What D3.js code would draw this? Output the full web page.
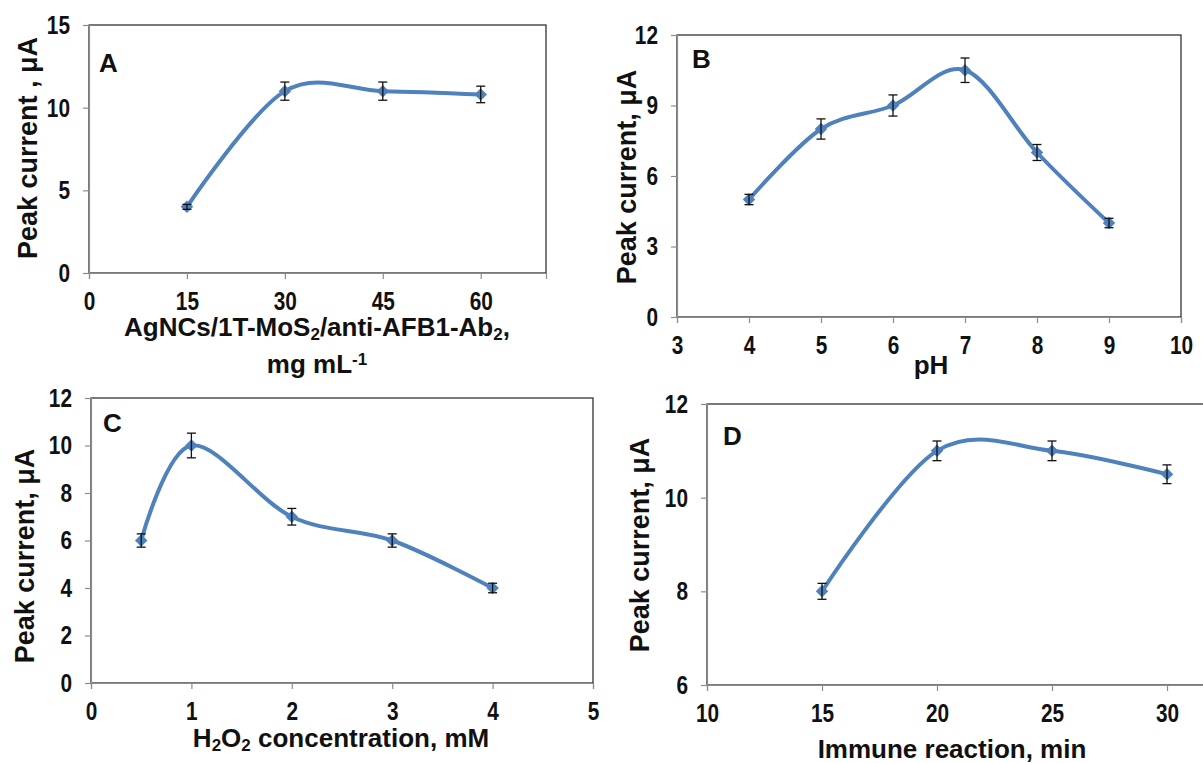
<!DOCTYPE html>
<html>
<head>
<meta charset="utf-8">
<script src="https://cdn.jsdelivr.net/npm/d3@7"></script>
<style>
  body { margin: 0; background: #fff; }
  svg { display: block; font-family: "Liberation Sans", Arial, sans-serif; font-weight: bold; }
</style>
</head>
<body>
<svg id="chart" width="1203" height="763"></svg>
<script>
// panel A - probe amount
const aX = [15, 30, 45, 60];
const aY = [4, 11, 11, 10.8];
const aErr = [0.15, 0.55, 0.55, 0.5];
const aXTicks = [0, 15, 30, 45, 60];
const aYTicks = [0, 5, 10, 15];

// panel B - pH
const bX = [4, 5, 6, 7, 8, 9];
const bY = [5, 8, 9, 10.5, 7, 4];
const bErr = [0.22, 0.43, 0.45, 0.52, 0.34, 0.2];
const bXTicks = [3, 4, 5, 6, 7, 8, 9, 10];
const bYTicks = [0, 3, 6, 9, 12];

// panel C - H2O2
const cX = [0.5, 1, 2, 3, 4];
const cY = [6, 10, 7, 6, 4];
const cErr = [0.28, 0.52, 0.35, 0.28, 0.2];
const cXTicks = [0, 1, 2, 3, 4, 5];
const cYTicks = [0, 2, 4, 6, 8, 10, 12];

// panel D - immune reaction time
const dX = [15, 20, 25, 30];
const dY = [8, 11, 11, 10.5];
const dErr = [0.17, 0.21, 0.21, 0.2];
const dXTicks = [10, 15, 20, 25, 30];
const dYTicks = [6, 8, 10, 12];

const blue = '#4f81bd';
const axisGrey = '#8c8c8c';
const svg = d3.select('#chart');

function drawPanel(p) {
  const x = d3.scaleLinear().domain(p.xDomain).range([p.left, p.right]);
  const y = d3.scaleLinear().domain(p.yDomain).range([p.bottom, p.top]);
  const g = svg.append('g');

  // plot area border
  g.append('rect')
    .attr('x', p.left).attr('y', p.top)
    .attr('width', p.right - p.left).attr('height', p.bottom - p.top)
    .attr('fill', 'none').attr('stroke', '#222').attr('stroke-width', 1.2);

  const xAxis = g.append('g')
    .attr('transform', `translate(0,${p.bottom})`)
    .call(d3.axisBottom(x).tickValues(p.xTicks).tickSize(6).tickPadding(13).tickFormat(d3.format('d')));
  const yAxis = g.append('g')
    .attr('transform', `translate(${p.left},0)`)
    .call(d3.axisLeft(y).tickValues(p.yTicks).tickSize(6).tickPadding(13).tickFormat(d3.format('d')));

  [xAxis, yAxis].forEach(ax => {
    ax.select('.domain').attr('stroke', axisGrey).attr('stroke-width', 1.2);
    ax.selectAll('.tick line').attr('stroke', axisGrey).attr('stroke-width', 1.2);
    ax.selectAll('text')
      .attr('fill', '#111')
      .style('font-size', '26px')
      .style('font-family', '"Liberation Sans", Arial, sans-serif')
      .style('font-weight', 'bold');
  });
  // narrow look of the tick numbers
  xAxis.selectAll('text').attr('transform', 'scale(0.8,1)');
  yAxis.selectAll('text').each(function () {
    const t = d3.select(this);
    const tx = +t.attr('x');
    t.attr('x', 0).attr('transform', `translate(${tx},0) scale(0.8,1)`);
  });

  const pts = p.xs.map((v, i) => ({ x: v, y: p.ys[i], e: p.errs[i] }));

  // smoothed line
  g.append('path')
    .datum(pts)
    .attr('fill', 'none')
    .attr('stroke', blue)
    .attr('stroke-width', 4)
    .attr('d', d3.line().x(d => x(d.x)).y(d => y(d.y)).curve(d3.curveCardinal.tension(0)));

  // markers
  g.selectAll('.mk').data(pts).enter().append('path')
    .attr('class', 'mk')
    .attr('transform', d => `translate(${x(d.x)},${y(d.y)}) rotate(45)`)
    .attr('d', d3.symbol(d3.symbolSquare, 78))
    .attr('fill', blue);

  // error bars
  const eb = g.selectAll('.eb').data(pts).enter().append('g').attr('class', 'eb')
    .attr('stroke', '#111').attr('stroke-width', 1.3);
  eb.append('line')
    .attr('x1', d => x(d.x)).attr('x2', d => x(d.x))
    .attr('y1', d => y(d.y + d.e)).attr('y2', d => y(d.y - d.e));
  eb.append('line')
    .attr('x1', d => x(d.x) - 4.5).attr('x2', d => x(d.x) + 4.5)
    .attr('y1', d => y(d.y + d.e)).attr('y2', d => y(d.y + d.e));
  eb.append('line')
    .attr('x1', d => x(d.x) - 4.5).attr('x2', d => x(d.x) + 4.5)
    .attr('y1', d => y(d.y - d.e)).attr('y2', d => y(d.y - d.e));

  // panel letter
  g.append('text')
    .attr('x', p.letterPos[0]).attr('y', p.letterPos[1])
    .style('font-size', '26px').attr('fill', '#111')
    .text(p.letter);

  // y title
  g.append('text')
    .attr('transform', `translate(${p.yTitlePos[0]},${p.yTitlePos[1]}) rotate(-90)`)
    .attr('text-anchor', 'middle')
    .attr('dy', '0.35em')
    .style('font-size', '27px').attr('fill', '#111')
    .text(p.yTitle);

  // x title (may contain sub/superscripts)
  p.xTitle.forEach((line, li) => {
    const t = g.append('text')
      .attr('x', p.xTitlePos[0]).attr('y', p.xTitlePos[1] + li * 37)
      .attr('text-anchor', 'middle')
      .style('font-size', '26px').attr('fill', '#111');
    line.forEach(part => {
      const s = t.append('tspan').text(part.t);
      if (part.sub) s.style('font-size', '17px').attr('baseline-shift', '-25%');
      if (part.sup) s.style('font-size', '17px').attr('baseline-shift', '45%');
    });
  });
}

drawPanel({
  xs: aX, ys: aY, errs: aErr, xTicks: aXTicks, yTicks: aYTicks,
  xDomain: [0, 70], yDomain: [0, 15],
  left: 89, right: 546, top: 25, bottom: 273,
  letter: 'A', letterPos: [99, 72],
  yTitle: 'Peak current , μA', yTitlePos: [28, 148],
  xTitle: [
    [{ t: 'AgNCs/1T-MoS' }, { t: '2', sub: true }, { t: '/anti-AFB1-Ab' }, { t: '2', sub: true }, { t: ',' }],
    [{ t: 'mg mL' }, { t: '-1', sup: true }]
  ],
  xTitlePos: [317, 336]
});

drawPanel({
  xs: bX, ys: bY, errs: bErr, xTicks: bXTicks, yTicks: bYTicks,
  xDomain: [3, 10], yDomain: [0, 12],
  left: 677, right: 1181, top: 35, bottom: 317,
  letter: 'B', letterPos: [692, 68],
  yTitle: 'Peak current, μA', yTitlePos: [627, 177],
  xTitle: [[{ t: 'pH' }]],
  xTitlePos: [931, 374]
});

drawPanel({
  xs: cX, ys: cY, errs: cErr, xTicks: cXTicks, yTicks: cYTicks,
  xDomain: [0, 5], yDomain: [0, 12],
  left: 91, right: 593, top: 398, bottom: 683,
  letter: 'C', letterPos: [103, 432],
  yTitle: 'Peak current, μA', yTitlePos: [25, 556],
  xTitle: [[{ t: 'H' }, { t: '2', sub: true }, { t: 'O' }, { t: '2', sub: true }, { t: ' concentration, mM' }]],
  xTitlePos: [341, 747]
});

drawPanel({
  xs: dX, ys: dY, errs: dErr, xTicks: dXTicks, yTicks: dYTicks,
  xDomain: [10, 35], yDomain: [6, 12],
  left: 707, right: 1282, top: 404, bottom: 685,
  letter: 'D', letterPos: [723, 445],
  yTitle: 'Peak current, μA', yTitlePos: [640, 545],
  xTitle: [[{ t: 'Immune reaction, min' }]],
  xTitlePos: [952, 758]
});
</script>
</body>
</html>
